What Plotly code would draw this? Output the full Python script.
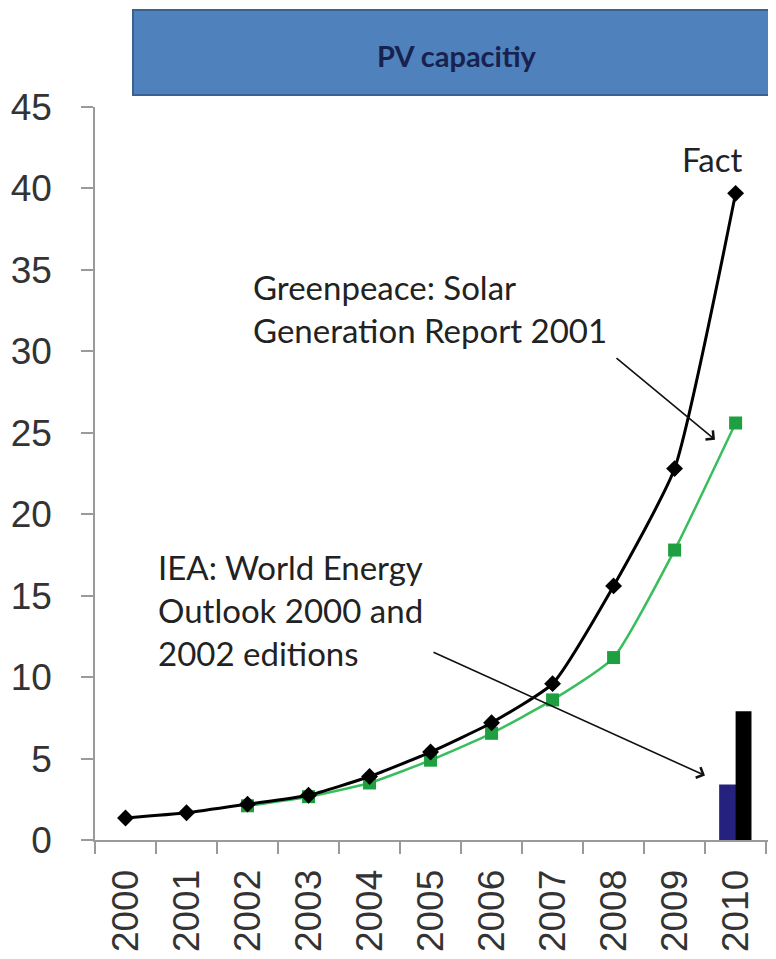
import plotly.graph_objects as go

years = ["2000", "2001", "2002", "2003", "2004", "2005", "2006", "2007", "2008", "2009", "2010"]
fact_values = [1.35, 1.67, 2.2, 2.75, 3.9, 5.4, 7.2, 9.6, 15.6, 22.8, 39.7]
greenpeace_years = ["2002", "2003", "2004", "2005", "2006", "2007", "2008", "2009", "2010"]
greenpeace_values = [2.1, 2.66, 3.5, 4.9, 6.55, 8.6, 11.2, 17.8, 25.6]
iea_years = ["2010"]
iea_2000_values = [3.4]
iea_2002_values = [7.9]
y_ticks = [0, 5, 10, 15, 20, 25, 30, 35, 40, 45]

# page body margin offset (8px) compensated
OFF = 8
W, H = 776 - OFF, 959 - OFF
L, R_EDGE = 95, 771
T, B_EDGE = 107, 840.5
PW, PH = R_EDGE - L, B_EDGE - T


def px(x):
    return (x - L) / PW


def py(y):
    return (B_EDGE - y) / PH


fig = go.Figure()

fig.add_trace(go.Bar(x=iea_years, y=iea_2000_values, marker=dict(color="#24227E", line=dict(width=0)),
                     width=0.28, offset=-0.27, showlegend=False))
fig.add_trace(go.Bar(x=iea_years, y=iea_2002_values, marker=dict(color="#000000", line=dict(width=0)),
                     width=0.26, offset=0.0, showlegend=False))

fig.add_trace(go.Scatter(x=greenpeace_years, y=greenpeace_values, mode="lines+markers",
                         line=dict(color="#38BE5C", width=2.5, shape="spline", smoothing=0.5),
                         marker=dict(symbol="square", size=13, color="#1FA040"),
                         showlegend=False))
fig.add_trace(go.Scatter(x=years, y=fact_values, mode="lines+markers",
                         line=dict(color="#000000", width=3, shape="spline", smoothing=0.5),
                         marker=dict(symbol="diamond", size=13, color="#000000"),
                         showlegend=False))

label_font = dict(family="Liberation Sans, Arial, sans-serif", size=37, color="#333333")
note_font = dict(family="Lato, Open Sans, sans-serif", size=33, color="#222222")

fig.update_layout(
    width=W, height=H,
    margin=dict(l=L - OFF, r=W - (R_EDGE - OFF), t=T - OFF, b=H - (B_EDGE - OFF), autoexpand=False),
    paper_bgcolor="white", plot_bgcolor="white",
    barmode="overlay",
    xaxis=dict(type="category", categoryorder="array", categoryarray=years,
               range=[-0.5, 10.58], showgrid=False, zeroline=False,
               showline=True, linecolor="#9a9a9a", linewidth=2,
               ticks="outside", tickson="boundaries", ticklen=12, tickwidth=1.5, tickcolor="#9a9a9a",
               tickangle=-90, tickfont=label_font, ticklabelstandoff=13),
    yaxis=dict(range=[0, 45], tickvals=y_ticks, showgrid=False, zeroline=False,
               showline=True, linecolor="#9a9a9a", linewidth=1.5,
               ticks="outside", ticklen=12, tickwidth=1.5, tickcolor="#9a9a9a",
               tickfont=label_font, ticklabelstandoff=22),
)

# title banner
fig.add_shape(type="rect", xref="paper", yref="paper",
              x0=px(133), x1=px(790), y0=py(95), y1=py(10),
              fillcolor="#4F81BD", line=dict(color="#3B6193", width=2), layer="above")
fig.add_annotation(xref="paper", yref="paper", x=px(457), y=py(55), text="<b>PV capacitiy</b>",
                   showarrow=False, xanchor="center", yanchor="middle",
                   font=dict(family="Lato, Open Sans, sans-serif", size=29, color="#17224F"))

# text annotations
fig.add_annotation(xref="paper", yref="paper", x=px(712), y=py(159), text="Fact",
                   showarrow=False, font=note_font, xanchor="center", yanchor="middle")
fig.add_annotation(xref="paper", yref="paper", x=px(251), y=py(309),
                   text="Greenpeace: Solar<br>Generation Report 2001",
                   showarrow=False, font=note_font, xanchor="left", yanchor="middle", align="left")
fig.add_annotation(xref="paper", yref="paper", x=px(156), y=py(610),
                   text="IEA: World Energy<br>Outlook 2000 and<br>2002 editions",
                   showarrow=False, font=note_font, xanchor="left", yanchor="middle", align="left")

# arrows
fig.add_annotation(xref="paper", yref="paper", x=px(715), y=py(440), ax=615 - 715, ay=357 - 440,
                   axref="pixel", ayref="pixel", text="", showarrow=True,
                   arrowhead=4, arrowsize=1.4, arrowwidth=1.6, arrowcolor="#111111")
fig.add_annotation(xref="paper", yref="paper", x=px(705), y=py(776), ax=432 - 705, ay=652 - 776,
                   axref="pixel", ayref="pixel", text="", showarrow=True,
                   arrowhead=4, arrowsize=1.4, arrowwidth=1.6, arrowcolor="#111111")

fig.write_html("out.html")
